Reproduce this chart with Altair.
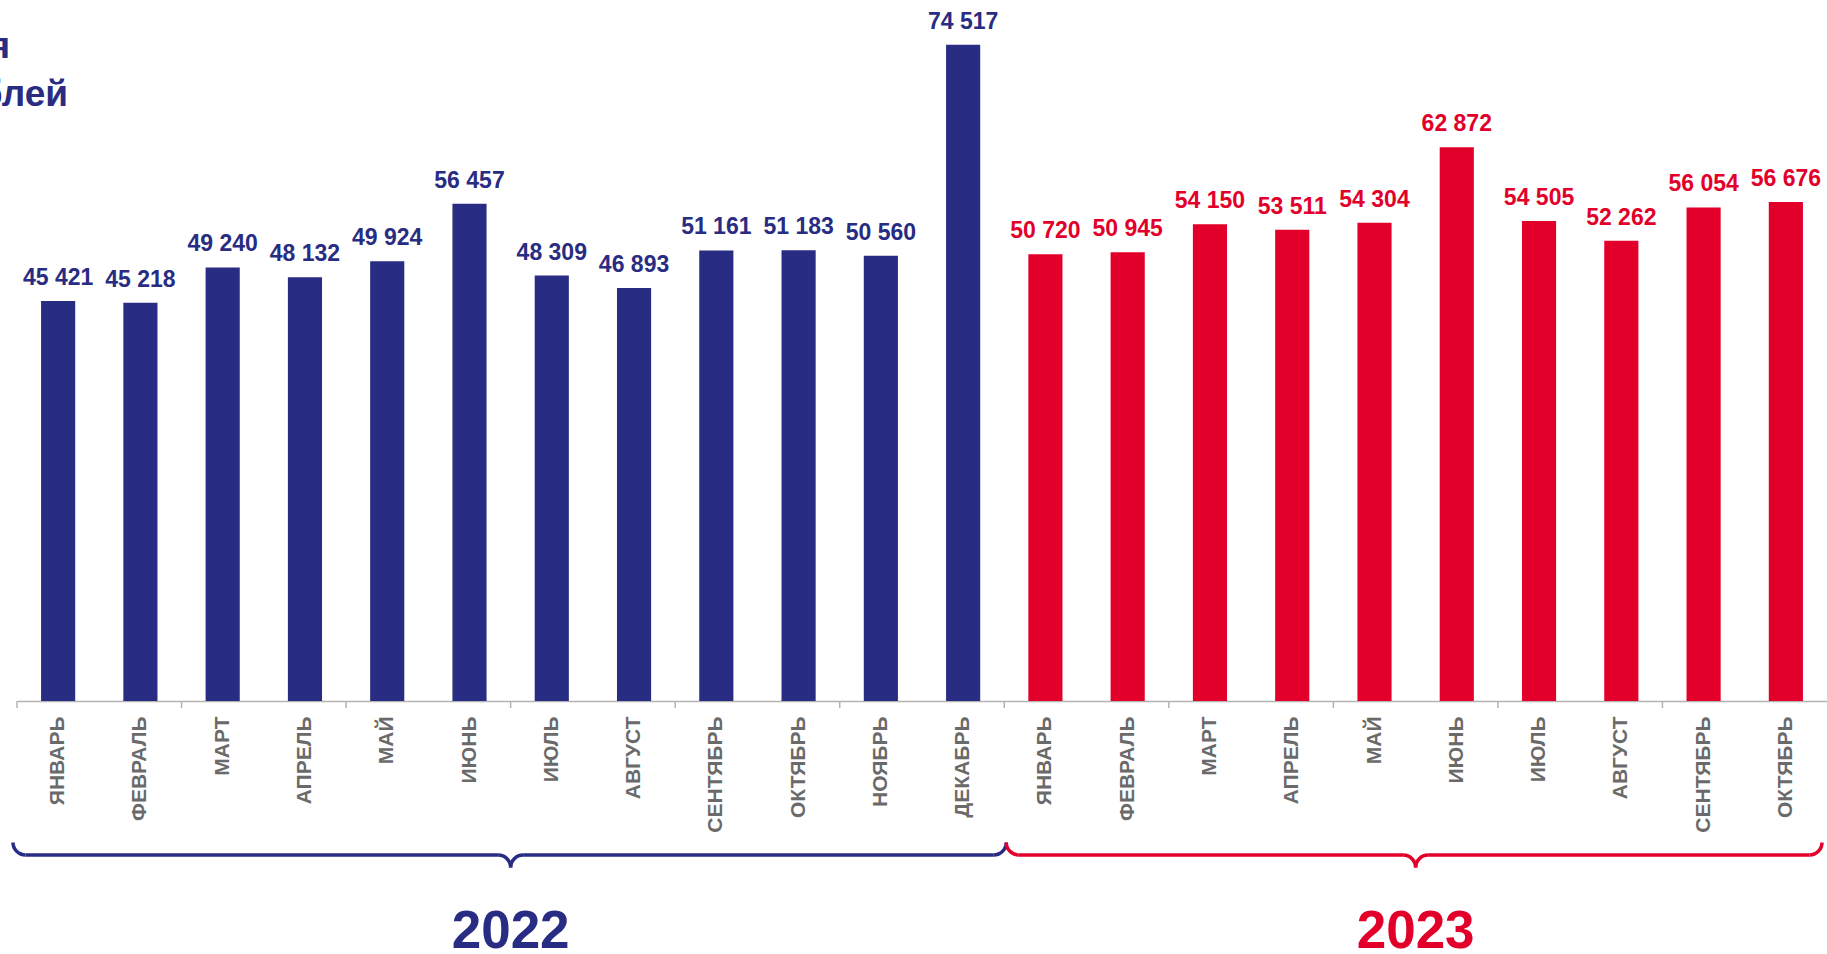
import math
import altair as alt
import pandas as pd

# ---------------- data ----------------
months = ["ЯНВАРЬ", "ФЕВРАЛЬ", "МАРТ", "АПРЕЛЬ", "МАЙ", "ИЮНЬ",
          "ИЮЛЬ", "АВГУСТ", "СЕНТЯБРЬ", "ОКТЯБРЬ", "НОЯБРЬ", "ДЕКАБРЬ"]
values_2022 = [45421, 45218, 49240, 48132, 49924, 56457,
               48309, 46893, 51161, 51183, 50560, 74517]
values_2023 = [50720, 50945, 54150, 53511, 54304, 62872,
               54505, 52262, 56054, 56676]
years = ["2022", "2023"]
title_lines = ["Среднемесячная", "заработная плата, рублей"]

NAVY = "#282c82"
RED = "#e2002b"
GRAY = "#6a6a6a"
FONT = "Liberation Sans"

keys, mlabels, yrs, vals = [], [], [], []
for m, v in zip(months, values_2022):
    keys.append(f"{m} 2022"); mlabels.append(m); yrs.append("2022"); vals.append(v)
for m, v in zip(months[:len(values_2023)], values_2023):
    keys.append(f"{m} 2023"); mlabels.append(m); yrs.append("2023"); vals.append(v)

df = pd.DataFrame({"k": keys, "month": mlabels, "year": yrs, "v": vals})

W, H = 1810, 700
xscale = alt.Scale(type="band", domain=keys, paddingInner=0, paddingOuter=0)
xaxis = alt.Axis(title=None, ticks=False, labelAngle=-90, labelPadding=15,
                 labelExpr="split(datum.label, ' ')[0]", labelFont=FONT,
                 labelFontSize=21, labelFontWeight="bold", labelColor=GRAY,
                 domainColor="#b3b3b3", domainWidth=1.5, labelLimit=300)
yscale = alt.Scale(domain=[0, 79490], nice=False, zero=True)
color = alt.Color("year:N", scale=alt.Scale(domain=years, range=[NAVY, RED]), legend=None)


def X(bp, field="k"):
    return alt.X(f"{field}:N", scale=xscale, axis=xaxis, bandPosition=bp)


base = alt.Chart(df)

bars = base.mark_bar(width=alt.RelativeBandSize(0.415)).encode(
    x=X(0.5),
    y=alt.Y("v:Q", scale=yscale, axis=None),
    color=color,
)

labels = base.transform_calculate(
    lab="replace(format(datum.v, ','), ',', ' ')"
).mark_text(font=FONT, fontSize=23, fontWeight="bold", baseline="alphabetic",
            align="center", dy=-16).encode(
    x=X(0.5),
    y=alt.Y("v:Q", scale=yscale, axis=None),
    text="lab:N",
    color=color,
)

# tick marks every second category boundary
tick_df = pd.DataFrame({"k": keys[::2]})
ticks = alt.Chart(tick_df).mark_rule(color="#b3b3b3", strokeWidth=1.5).encode(
    x=X(0), y=alt.value(H), y2=alt.value(H + 7)
)

# ---------------- braces ----------------
r = 12.5
L = 854
T = L - r
Y = L + r
sw = 3.5
layers = []


def arc(key, bp, off, cy, t1, t2, col):
    return alt.Chart(pd.DataFrame({"k": [key]})).mark_arc(
        radius=r + sw / 2, radius2=r - sw / 2, theta=t1, theta2=t2,
        color=col, xOffset=off
    ).encode(x=X(bp), y=alt.value(cy))


def seg(k1, bp1, off1, k2, bp2, off2, col):
    return alt.Chart(pd.DataFrame({"k": [k1], "k2": [k2]})).mark_rule(
        color=col, strokeWidth=sw, xOffset=off1, x2Offset=off2
    ).encode(x=X(bp1), x2=alt.X2("k2:N", bandPosition=bp2), y=alt.value(L))


PI = math.pi
n22 = len(values_2022)
n23 = len(values_2023)
k0 = keys[0]
k_mid22 = keys[6]
k_j = keys[n22]
k_mid23 = keys[n22 + n23 // 2]
k_last = keys[-1]

e0 = -4      # left end offset from boundary
ej = 2       # junction offset
e1 = -5      # right end offset (from end of last band)

for part in [
    # 2022 brace
    arc(k0, 0, e0 + r, T, PI, 1.5 * PI, NAVY),
    seg(k0, 0, e0 + r, k_mid22, 0, -r, NAVY),
    arc(k_mid22, 0, -r, Y, 0, 0.5 * PI, NAVY),
    arc(k_mid22, 0, r, Y, 1.5 * PI, 2 * PI, NAVY),
    seg(k_mid22, 0, r, k_j, 0, ej - r, NAVY),
    arc(k_j, 0, ej - r, T, 0.5 * PI, PI, NAVY),
    # 2023 brace
    arc(k_j, 0, ej + r, T, PI, 1.5 * PI, RED),
    seg(k_j, 0, ej + r, k_mid23, 0, -r, RED),
    arc(k_mid23, 0, -r, Y, 0, 0.5 * PI, RED),
    arc(k_mid23, 0, r, Y, 1.5 * PI, 2 * PI, RED),
    seg(k_mid23, 0, r, k_last, 1, e1 - r, RED),
    arc(k_last, 1, e1 - r, T, 0.5 * PI, PI, RED),
]:
    layers.append(part)

# year labels
year_df = pd.DataFrame({"k": [k_mid22, k_mid23], "year": years})
year_text = alt.Chart(year_df).mark_text(
    font=FONT, fontSize=53, fontWeight="bold", align="center", baseline="alphabetic"
).encode(x=X(0), y=alt.value(947), text="year:N", color=color)

# title (cut off at left edge in the original)
title_df = pd.DataFrame({"line": title_lines})
title1 = alt.Chart(title_df.iloc[[0]]).mark_text(
    font=FONT, fontSize=37, fontWeight="bold", align="right", baseline="alphabetic",
    color=NAVY
).encode(x=alt.value(-7), y=alt.value(57), text="line:N")
title2 = alt.Chart(title_df.iloc[[1]]).mark_text(
    font=FONT, fontSize=37, fontWeight="bold", align="right", baseline="alphabetic",
    color=NAVY
).encode(x=alt.value(51), y=alt.value(105), text="line:N")

chart = alt.layer(bars, labels, ticks, *layers, year_text, title1, title2).properties(
    width=W, height=H,
    autosize=alt.AutoSizeParams(type="none"),
    padding={"left": 17, "top": 1, "right": 0, "bottom": 253},
    background="white",
).configure_view(stroke=None)

chart.save("out.html", embed_options={"renderer": "svg", "actions": False})
